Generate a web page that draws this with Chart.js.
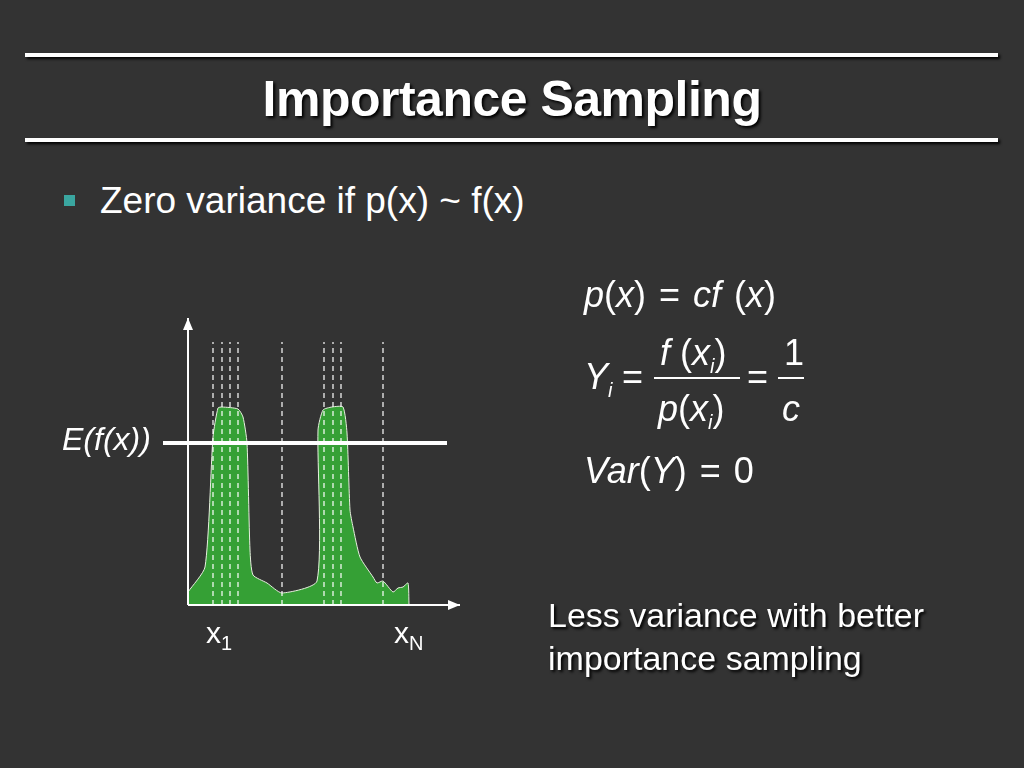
<!DOCTYPE html>
<html><head><meta charset="utf-8">
<script src="https://cdn.jsdelivr.net/npm/chart.js@4/dist/chart.umd.min.js"></script>
<style>
body{margin:0;width:1024px;height:768px;background:#333333;overflow:hidden;font-family:"Liberation Sans",Arial,sans-serif;color:#fff;position:relative}
.abs{position:absolute;white-space:nowrap}
.rule{position:absolute;left:25px;width:973px;height:4px;background:#fff;box-shadow:2px 2px 3px #000}
#c{position:absolute;left:0;top:0}
.sh{text-shadow:2px 2px 3px #000}
i{font-style:italic}
</style></head><body>
<div class="rule" style="top:53px"></div>
<div class="rule" style="top:138px"></div>
<div class="abs sh" style="left:0;width:1024px;text-align:center;top:70px;font-size:50px;font-weight:bold;letter-spacing:-0.5px">Importance Sampling</div>
<div class="abs" style="left:64px;top:195px;width:11px;height:11px;background:#3aa6a0"></div>
<div class="abs" style="left:100px;top:180px;font-size:37px">Zero variance if p(x) ~ f(x)</div>
<canvas id="c" width="1024" height="768"></canvas>
<div class="abs" style="left:62px;top:421px;font-size:32px"><i>E(f(x))</i></div>
<div class="abs" style="left:206px;top:616px;font-size:30px">x<sub style="font-size:20px">1</sub></div>
<div class="abs" style="left:394px;top:616px;font-size:30px">x<sub style="font-size:20px">N</sub></div>
<div class="abs" style="left:584px;top:274px;font-size:36px;word-spacing:3px"><i>p</i>(<i>x</i>) = <i>cf</i> (<i>x</i>)</div>
<div class="abs" style="left:584px;top:356px;font-size:36px"><i>Y<sub style="font-size:20px">i</sub></i></div>
<div class="abs" style="left:622px;top:356px;font-size:36px">=</div>
<div class="abs" style="left:660px;top:332px;font-size:36px"><i>f</i> (<i>x<sub style="font-size:20px">i</sub></i>)</div>
<div class="abs" style="left:654px;top:377px;width:86px;height:2px;background:#fff"></div>
<div class="abs" style="left:658px;top:388px;font-size:36px"><i>p</i>(<i>x<sub style="font-size:20px">i</sub></i>)</div>
<div class="abs" style="left:747px;top:356px;font-size:36px">=</div>
<div class="abs" style="left:784px;top:332px;font-size:36px">1</div>
<div class="abs" style="left:778px;top:377px;width:26px;height:2px;background:#fff"></div>
<div class="abs" style="left:782px;top:388px;font-size:36px"><i>c</i></div>
<div class="abs" style="left:584px;top:450px;font-size:36px;word-spacing:3px"><i>Var</i>(<i>Y</i>) = 0</div>
<div class="abs sh" style="left:548px;top:594px;font-size:34px;line-height:43px">Less variance with better<br>importance sampling</div>
<script>
const curveX=[0,17,25,30,34,50,55,59,62,65,79,94,129,130,135,144,155,159,162,165,172,185,189,195,205,210,215,220,221];
const curveY=[13,38,168,197,198,196,188,162,55,30,22,12,24,175,195,198,198,172,95,78,48,28,22,24,13,17,18,22,0];
const samplesX=[25,34,42,50,94,136,145,153,195];
const sampleTop=263;
const meanY=162;
const xAxisEnd=272, yAxisTop=287;
const curve=curveX.map((x,i)=>({x,y:curveY[i]}));
const ds=[{data:curve,borderColor:'#e8f0e0',borderWidth:1,backgroundColor:'#35a035',fill:'origin',pointRadius:0,tension:0.2,order:3}];
samplesX.forEach(x=>ds.push({data:[{x,y:0},{x,y:sampleTop}],borderColor:'#ffffff',borderWidth:1.2,borderDash:[5,4],pointRadius:0,fill:false,order:1}));
ds.push({data:[{x:-25,y:meanY},{x:259,y:meanY}],borderColor:'#ffffff',borderWidth:4,pointRadius:0,fill:false,order:0});
ds.push({data:[{x:0,y:0},{x:xAxisEnd,y:0}],borderColor:'#fff',borderWidth:2,pointRadius:0,fill:false,order:0,arrow:true});
ds.push({data:[{x:0,y:0},{x:0,y:yAxisTop}],borderColor:'#fff',borderWidth:2,pointRadius:0,fill:false,order:0,arrow:true});
const arrows={id:'arrows',afterDatasetsDraw(ch){const c=ch.ctx;ch.data.datasets.forEach((d,i)=>{if(!d.arrow)return;const xs=ch.scales.x,ys=ch.scales.y;const p0=d.data[0],p1=d.data[1];const x0=xs.getPixelForValue(p0.x),y0=ys.getPixelForValue(p0.y),x1=xs.getPixelForValue(p1.x),y1=ys.getPixelForValue(p1.y);const a=Math.atan2(y1-y0,x1-x0);c.save();c.fillStyle='#fff';c.beginPath();c.moveTo(x1,y1);c.lineTo(x1-12*Math.cos(a)+5*Math.sin(a),y1-12*Math.sin(a)-5*Math.cos(a));c.lineTo(x1-12*Math.cos(a)-5*Math.sin(a),y1-12*Math.sin(a)+5*Math.cos(a));c.closePath();c.fill();c.restore();});}};
new Chart(document.getElementById('c'),{type:'line',data:{datasets:ds},plugins:[arrows],
options:{responsive:false,animation:false,layout:{padding:0},plugins:{legend:{display:false},tooltip:{enabled:false}},
scales:{x:{type:'linear',min:-188,max:836,display:false},y:{type:'linear',min:-163,max:605,display:false}}}});
</script>
</body></html>
